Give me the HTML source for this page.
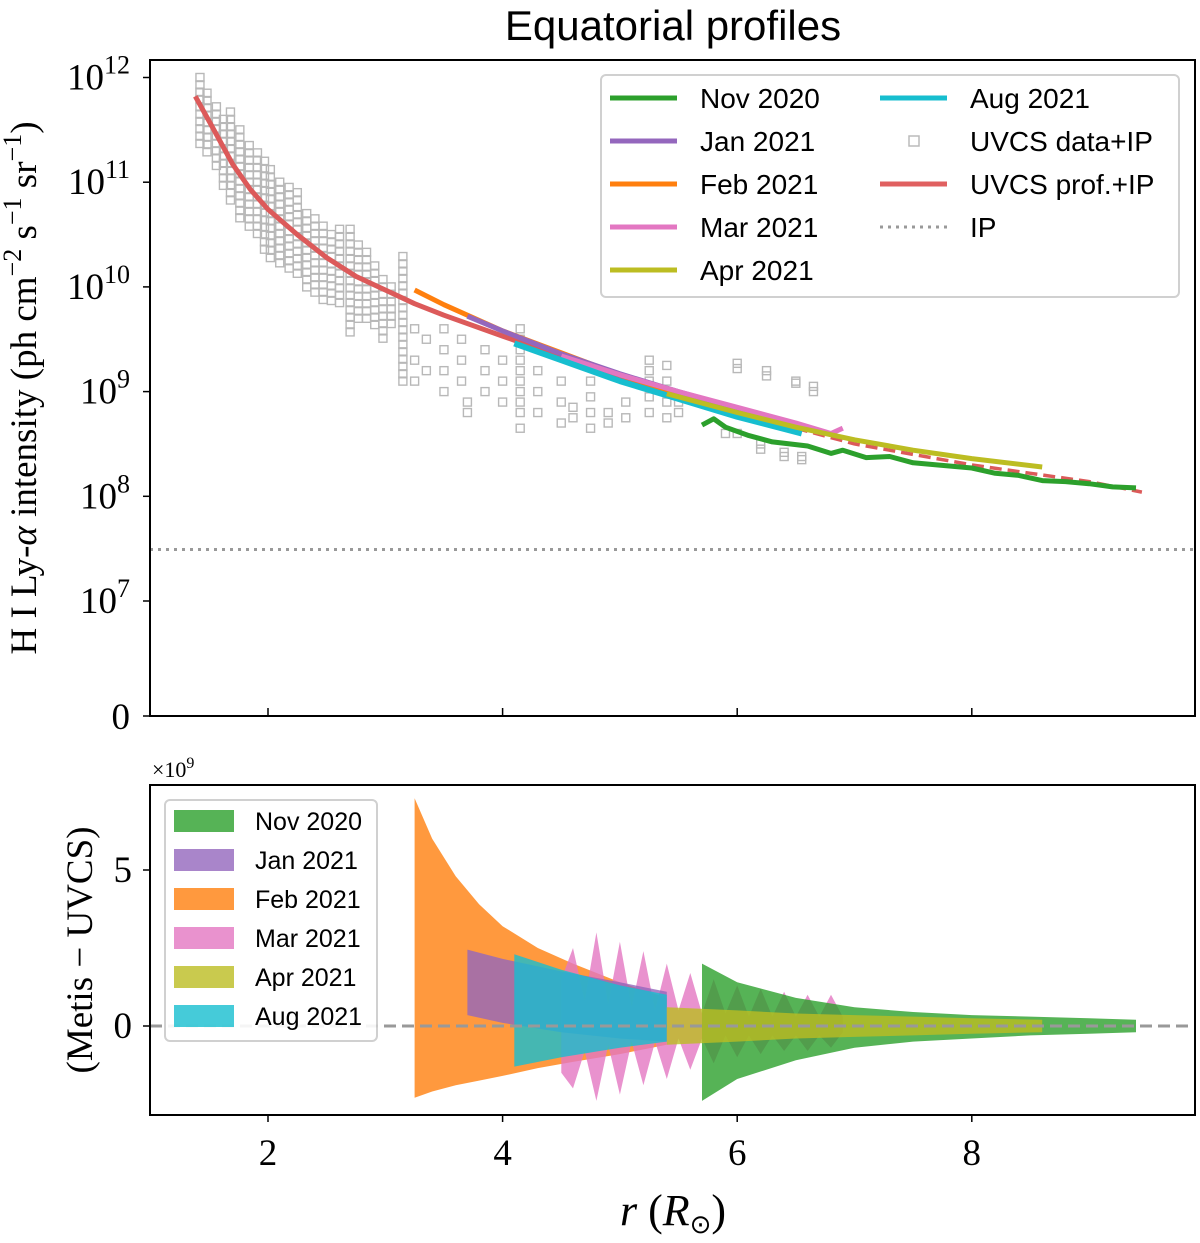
<!DOCTYPE html>
<html><head><meta charset="utf-8"><style>
body{margin:0;background:#fff;}
svg text{font-family:"Liberation Serif",serif;}
</style></head><body>
<svg id="c" width="1200" height="1238" viewBox="0 0 1200 1238" xmlns="http://www.w3.org/2000/svg">
<text x="673" y="40" font-size="42" text-anchor="middle" style="font-family:'Liberation Sans',sans-serif">Equatorial profiles</text>
<g id="topPanel"></g>
<g id="botPanel"></g>
</svg>
<script>
// ---- data ----
const xTicks=[2,4,6,8];
const topTickExp=[12,11,10,9,8,7];
const botTicks=[0,5];
const modelR=[1.38,1.5,1.7,1.85,2.0,2.25,2.5,2.75,3.0,3.25,3.5,4.0,4.5,5.0,5.5,6.0,6.5,7.0,7.5,8.0,8.5,9.0,9.45];
const modelL=[11.82,11.58,11.17,10.93,10.74,10.5,10.28,10.1,9.97,9.84,9.73,9.53,9.33,9.15,8.98,8.8,8.65,8.5,8.4,8.3,8.22,8.14,8.04];
const febR=[3.25,3.5,4.0,4.5,5.0,5.5,6.0,6.5];
const febL=[9.97,9.83,9.58,9.37,9.16,8.98,8.82,8.66];
const janR=[3.7,4.0,4.5,5.0,5.5,6.0,6.5];
const janL=[9.72,9.58,9.36,9.17,9.0,8.84,8.68];
const augR=[4.1,4.5,5.0,5.5,6.0,6.55];
const augL=[9.46,9.3,9.1,8.93,8.76,8.6];
const marR=[4.5,5.0,5.5,6.0,6.5,6.8,6.9];
const marL=[9.34,9.16,9.0,8.85,8.7,8.6,8.65];
const aprR=[5.4,6.0,6.5,7.0,7.5,8.0,8.6];
const aprL=[8.98,8.8,8.66,8.54,8.44,8.36,8.28];
const novR=[5.7,5.8,5.9,6.1,6.3,6.6,6.8,6.9,7.1,7.3,7.5,7.7,8.0,8.2,8.4,8.6,8.8,9.0,9.2,9.4];
const novL=[8.68,8.74,8.66,8.58,8.52,8.48,8.41,8.44,8.37,8.38,8.32,8.3,8.27,8.22,8.2,8.15,8.14,8.12,8.09,8.08];
const ipVal=3.1e7;
// dense UVCS columns near the Sun: [r, max log, min log]
const sqRange=[
[1.42,12.0,11.34],[1.48,11.85,11.25],[1.56,11.72,11.12],[1.62,11.6,10.95],[1.68,11.67,10.83],[1.76,11.5,10.64],
[1.84,11.35,10.55],[1.91,11.28,10.45],[1.97,11.2,10.35],[2.02,11.12,10.26],[2.1,11.0,10.2],[2.18,10.95,10.12],
[2.25,10.9,10.1],[2.33,10.7,10.0],[2.4,10.65,9.95],[2.47,10.58,9.88],[2.54,10.5,9.85],[2.61,10.55,9.81],
[2.7,10.55,9.53],[2.77,10.4,9.7],[2.84,10.33,9.69],[2.91,10.2,9.6],[2.98,10.07,9.5],[3.05,10.0,9.6],[3.15,10.29,9.09]];
// sparse UVCS points: [r, list of log values]
const sqCols=[
[3.25,[9.6,9.3,9.1]],[3.35,[9.5,9.2]],[3.5,[9.6,9.4,9.2,9.0]],[3.65,[9.5,9.3,9.1]],
[3.7,[8.9,8.8]],[3.85,[9.4,9.2,9.0]],[4.0,[9.3,9.1,8.9]],[4.15,[9.6,9.5,9.4,9.3,9.2,9.1,9.0,8.9,8.8,8.65]],
[4.3,[9.2,9.0,8.8]],[4.5,[9.1,8.9,8.7]],[4.6,[8.85,8.75]],[4.75,[9.1,8.95,8.8,8.65]],
[4.9,[8.8,8.7]],[5.05,[8.9,8.75]],[5.25,[9.3,9.2,9.1,8.95,8.8]],[5.4,[9.25,9.1,9.0,8.9,8.75]],
[5.5,[8.9,8.8]],[5.9,[8.6]],[6.0,[8.6]],
[6.0,[9.27,9.22]],[6.25,[9.2,9.15]],[6.5,[9.1,9.08]],[6.65,[9.05,9.0]],
[6.2,[8.5,8.45]],[6.4,[8.42,8.38]],[6.55,[8.38,8.35]]
];
const bFebR=[3.25,3.4,3.6,3.8,4.0,4.3,4.6,5.0,5.4];
const bFebU=[7.3,6.0,4.8,3.9,3.2,2.5,2.0,1.4,0.9];
const bFebD=[-2.3,-2.1,-1.9,-1.75,-1.6,-1.35,-1.15,-0.9,-0.6];
const bJanR=[3.7,4.0,4.5,5.0,5.4];
const bJanU=[2.45,2.15,1.75,1.4,1.1];
const bJanD=[0.35,0.1,-0.2,-0.4,-0.5];
const bAugR=[4.1,4.5,5.0,5.4];
const bAugU=[2.3,1.8,1.3,1.0];
const bAugD=[-1.3,-1.0,-0.7,-0.5];
const bMarR=[4.5,4.6,4.7,4.8,4.9,5.0,5.1,5.2,5.3,5.4,5.5,5.6,5.7,5.8,5.9,6.0,6.1,6.2,6.3,6.4,6.5,6.6,6.7,6.8,6.9];
const bMarU=[1.5,2.5,0.8,3.0,0.7,2.7,0.6,2.4,0.5,2.0,0.5,1.7,0.4,1.5,0.4,1.3,0.3,1.2,0.3,1.1,0.3,1.0,0.3,1.0,0.3];
const bMarD=[-1.5,-2.0,-0.8,-2.4,-0.6,-2.2,-0.5,-1.9,-0.5,-1.7,-0.4,-1.4,-0.4,-1.2,-0.3,-1.0,-0.3,-0.9,-0.3,-0.8,-0.3,-0.8,-0.3,-0.7,-0.2];
const bNovR=[5.7,6.0,6.5,7.0,7.5,8.0,8.5,9.0,9.4];
const bNovU=[2.0,1.4,0.9,0.6,0.45,0.35,0.3,0.25,0.2];
const bNovD=[-2.4,-1.7,-1.1,-0.7,-0.5,-0.4,-0.3,-0.25,-0.2];
const bAprR=[5.4,6.0,6.5,7.0,7.5,8.0,8.6];
const bAprU=[0.6,0.5,0.4,0.35,0.3,0.25,0.2];
const bAprD=[-0.6,-0.5,-0.4,-0.35,-0.3,-0.25,-0.2];

const X0=150,X1=1195;
const xs=r=>268+(r-2)*117.3;
const yTopL=l=>601-(l-7)*104.7;
const yTopV=v=>v>=1e7?yTopL(Math.log10(v)):716-(v/1e7)*115;
const yb=v=>1026-v*31.2;
const NS="http://www.w3.org/2000/svg";
function mk(p,tag,at){const e=document.createElementNS(NS,tag);for(const k in at)e.setAttribute(k,at[k]);p.appendChild(e);return e;}
const topG=document.getElementById('topPanel'),botG=document.getElementById('botPanel');

let clipT=mk(topG,'clipPath',{id:'ct'});mk(clipT,'rect',{x:X0,y:60,width:X1-X0,height:656});
let gT=mk(topG,'g',{'clip-path':'url(#ct)'});
function sq(r,l){
 const s=mk(gT,'rect',{x:xs(r)-4,y:yTopL(l)-4,width:8,height:8,fill:'none',stroke:'#b8b8b8','stroke-width':1.4});
 
 
}
sqRange.forEach(c=>{for(let l=c[1];l>=c[2]-0.001;l-=0.07)sq(c[0],l);});
sqCols.forEach(c=>c[1].forEach(l=>sq(c[0],l)));
function drawLine(g,R,L,col,w,name,dash){
 const d=R.map((r,i)=>(i?'L':'M')+xs(r).toFixed(1)+','+yTopL(L[i]).toFixed(1)).join('');
 const p=mk(g,'path',{d:d,fill:'none',stroke:col,'stroke-width':w,'stroke-linejoin':'round'});
 if(dash)p.setAttribute('stroke-dasharray',dash);
 
 
}
const split=modelR.findIndex(r=>r>=6.5);
drawLine(gT,modelR.slice(0,split+1),modelL.slice(0,split+1),'#dc5a5a',5,'uvcs-profile-line');
drawLine(gT,modelR.slice(split),modelL.slice(split),'#dc5a5a',3.5,'uvcs-profile-extrapolated','12,6');
drawLine(gT,febR,febL,'#ff7f0e',5,'line-feb-2021');
drawLine(gT,janR,janL,'#9467bd',5,'line-jan-2021');
drawLine(gT,marR,marL,'#e377c2',5,'line-mar-2021');
drawLine(gT,augR,augL,'#17becf',6,'line-aug-2021');
drawLine(gT,aprR,aprL,'#bcbd22',5,'line-apr-2021');
drawLine(gT,novR,novL,'#2ca02c',5,'line-nov-2020');
let ip=mk(gT,'line',{x1:X0,x2:X1,y1:yTopV(ipVal),y2:yTopV(ipVal),stroke:'#999','stroke-width':3,'stroke-dasharray':'3,5'});

mk(topG,'rect',{x:X0,y:60,width:X1-X0,height:656,fill:'none',stroke:'#000','stroke-width':2});
topTickExp.forEach(e=>{const y=yTopL(e);mk(topG,'line',{x1:X0-7,x2:X0,y1:y,y2:y,stroke:'#000','stroke-width':1.5});
 const t=mk(topG,'text',{x:X0-20,y:y+12,'font-size':37,'text-anchor':'end'});t.innerHTML='10<tspan dy="-16" font-size="26">'+e+'</tspan>';
 });
mk(topG,'line',{x1:X0-7,x2:X0,y1:716,y2:716,stroke:'#000','stroke-width':1.5});
let z=mk(topG,'text',{x:X0-20,y:729,'font-size':37,'text-anchor':'end'});z.textContent='0';
xTicks.forEach(r=>mk(topG,'line',{x1:xs(r),x2:xs(r),y1:716,y2:708,stroke:'#000','stroke-width':1.5}));
let yl=mk(topG,'text',{transform:'translate(36,388) rotate(-90)','font-size':37,'text-anchor':'middle'});
yl.innerHTML='H I Ly-<tspan font-style="italic">α</tspan> intensity (ph cm<tspan dy="-15" font-size="26">−2</tspan><tspan dy="15"> s</tspan><tspan dy="-15" font-size="26">−1</tspan><tspan dy="15"> sr</tspan><tspan dy="-15" font-size="26">−1</tspan><tspan dy="15">)</tspan>';

let lg=mk(topG,'g',{});
mk(lg,'rect',{x:601,y:75,width:578,height:222,rx:5,fill:'#fff',stroke:'#ccc','stroke-width':2,opacity:0.9});
const le=[[610,98,'#2ca02c','Nov 2020','l'],[610,141,'#9467bd','Jan 2021','l'],[610,184,'#ff7f0e','Feb 2021','l'],[610,227,'#e377c2','Mar 2021','l'],[610,270,'#bcbd22','Apr 2021','l'],
[880,98,'#17becf','Aug 2021','l'],[880,141,'#bbb','UVCS data+IP','s'],[880,184,'#e06060','UVCS prof.+IP','l'],[880,227,'#999','IP','d']];
le.forEach(a=>{const g=mk(lg,'g',{});
 if(a[4]=='l')mk(g,'line',{x1:a[0],x2:a[0]+67,y1:a[1],y2:a[1],stroke:a[2],'stroke-width':5});
 else if(a[4]=='s')mk(g,'rect',{x:a[0]+29,y:a[1]-5,width:10,height:10,fill:'none',stroke:a[2],'stroke-width':1.5});
 else mk(g,'line',{x1:a[0],x2:a[0]+67,y1:a[1],y2:a[1],stroke:a[2],'stroke-width':3,'stroke-dasharray':'3,5'});
 const t=mk(g,'text',{x:a[0]+90,y:a[1]+10,'font-size':28,style:"font-family:'Liberation Sans',sans-serif"});t.textContent=a[3];});

let clipB=mk(botG,'clipPath',{id:'cb'});mk(clipB,'rect',{x:X0,y:785,width:X1-X0,height:330});
let gB=mk(botG,'g',{'clip-path':'url(#cb)'});
function band(R,U,D,col,name){
 let d=R.map((r,i)=>(i?'L':'M')+xs(r).toFixed(1)+','+yb(U[i]).toFixed(1)).join('');
 for(let i=R.length-1;i>=0;i--)d+='L'+xs(R[i]).toFixed(1)+','+yb(D[i]).toFixed(1);
 const p=mk(gB,'path',{d:d+'Z',fill:col,'fill-opacity':0.8});
 
}
band(bFebR,bFebU,bFebD,'#ff7f0e','band-feb-2021');
band(bMarR,bMarU,bMarD,'#e377c2','band-mar-2021');
band(bJanR,bJanU,bJanD,'#9467bd','band-jan-2021');
band(bAugR,bAugU,bAugD,'#17becf','band-aug-2021');
band(bNovR,bNovU,bNovD,'#2ca02c','band-nov-2020');
band(bAprR,bAprU,bAprD,'#bcbd22','band-apr-2021');
let zl=mk(gB,'line',{x1:X0,x2:X1,y1:yb(0),y2:yb(0),stroke:'#999','stroke-width':3,'stroke-dasharray':'12,6'});

mk(botG,'rect',{x:X0,y:785,width:X1-X0,height:330,fill:'none',stroke:'#000','stroke-width':2});
botTicks.forEach(v=>{mk(botG,'line',{x1:X0-7,x2:X0,y1:yb(v),y2:yb(v),stroke:'#000','stroke-width':1.5});
 const t=mk(botG,'text',{x:X0-18,y:yb(v)+12,'font-size':37,'text-anchor':'end'});t.textContent=v;
 });
let sc=mk(botG,'text',{x:152,y:777,'font-size':22});sc.innerHTML='×10<tspan dy="-9" font-size="16">9</tspan>';
xTicks.forEach(r=>{mk(botG,'line',{x1:xs(r),x2:xs(r),y1:1115,y2:1122,stroke:'#000','stroke-width':1.5});
 const t=mk(botG,'text',{x:xs(r),y:1165,'font-size':37,'text-anchor':'middle'});t.textContent=r;
 });
let by=mk(botG,'text',{transform:'translate(92,950) rotate(-90)','font-size':37,'text-anchor':'middle'});by.textContent='(Metis − UVCS)';

let xl=mk(botG,'text',{x:673,y:1225,'font-size':44,'text-anchor':'middle'});
xl.innerHTML='<tspan font-style="italic">r</tspan> (<tspan font-style="italic">R</tspan><tspan font-size="26" dy="8">⊙</tspan><tspan dy="-8">)</tspan>';

let lb=mk(botG,'g',{});
mk(lb,'rect',{x:165,y:800,width:212,height:241,rx:5,fill:'#fff',stroke:'#ccc','stroke-width':2,opacity:0.9});
[['#2ca02c','Nov 2020'],['#9467bd','Jan 2021'],['#ff7f0e','Feb 2021'],['#e377c2','Mar 2021'],['#bcbd22','Apr 2021'],['#17becf','Aug 2021']].forEach((a,i)=>{
 const y=821+i*39;const g=mk(lb,'g',{});
 mk(g,'rect',{x:174,y:y-11,width:60,height:22,fill:a[0],'fill-opacity':0.8});
 const t=mk(g,'text',{x:255,y:y+9,'font-size':25,style:"font-family:'Liberation Sans',sans-serif"});t.textContent=a[1];});
</script>
</body></html>
